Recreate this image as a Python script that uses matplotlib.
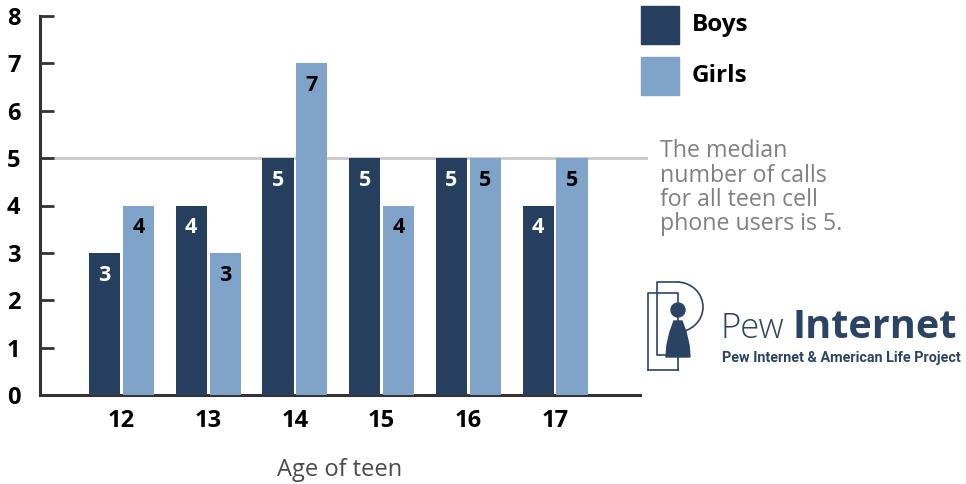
import numpy as np
import matplotlib.pyplot as plt
from matplotlib.patches import Rectangle, Circle, Polygon, Arc

ages = ["12", "13", "14", "15", "16", "17"]
boys = [3, 4, 5, 5, 5, 4]
girls = [4, 3, 7, 4, 5, 5]
median_all = 5

BOYS_C = "#263f5e"
GIRLS_C = "#80a3ca"
LOGO_C = "#2b4463"
FONT = ["Open Sans", "DejaVu Sans"]

plt.rcParams["font.family"] = FONT

fig = plt.figure(figsize=(9.66, 4.84), dpi=100)
ax = fig.add_axes([40 / 966, 89 / 484, 600 / 966, 379 / 484])

x = np.arange(len(ages))
w = 0.36
off = 0.195
bb = ax.bar(x - off, boys, w, color=BOYS_C, zorder=3)
gb = ax.bar(x + off, girls, w, color=GIRLS_C, zorder=3)

for rect, v in zip(bb, boys):
    ax.text(rect.get_x() + rect.get_width() / 2, v - 0.47, str(v), ha="center", va="center",
            color="white", fontsize=15.5, fontweight="bold", zorder=4)
for rect, v in zip(gb, girls):
    ax.text(rect.get_x() + rect.get_width() / 2, v - 0.47, str(v), ha="center", va="center",
            color="black", fontsize=15.5, fontweight="bold", zorder=4)

ax.axhline(median_all, xmin=0, xmax=1.01, color="#c9c9c9", lw=2, zorder=1, clip_on=False)

ax.set_xlim(-0.94, 5.98)
ax.set_ylim(0, 8)
ax.set_yticks(range(0, 9))
ax.set_xticks(x)
ax.set_xticklabels(ages, fontsize=17, fontweight="bold")
ax.tick_params(axis="x", length=0, pad=10)
ax.tick_params(axis="y", direction="in", length=10, width=2, color="#333333",
               labelsize=17, pad=14)
for lab in ax.get_yticklabels():
    lab.set_fontweight("bold")
for s in ["top", "right"]:
    ax.spines[s].set_visible(False)
for s in ["left", "bottom"]:
    ax.spines[s].set_linewidth(2.2)
    ax.spines[s].set_color("#333333")
ax.set_xlabel("Age of teen", fontsize=17, color="#4a4a4a", labelpad=18)

# overlay in pixel coordinates for legend, note and logo
ov = fig.add_axes([0, 0, 1, 1], zorder=5)
ov.set_xlim(0, 966)
ov.set_ylim(484, 0)
ov.axis("off")
ov.patch.set_alpha(0)

ov.add_patch(Rectangle((641, 6), 38, 38, color=BOYS_C))
ov.add_patch(Rectangle((641, 57), 38, 38, color=GIRLS_C))
ov.text(692, 25, "Boys", fontsize=17.5, fontweight="bold", va="center")
ov.text(692, 76, "Girls", fontsize=17.5, fontweight="bold", va="center")

note = ["The median", "number of calls", "for all teen cell", "phone users is 5."]
for i, line in enumerate(note):
    ov.text(660, 157 + 24.5 * i, line, fontsize=16.7, color="#808080", va="baseline")

# logo
ov.plot([648, 648, 678, 678], [370, 293, 293, 370], color=LOGO_C, lw=1.2)
ov.plot([648, 678], [370, 370], color=LOGO_C, lw=1.2)
ov.plot([670, 657, 657, 677], [355, 355, 282, 282], color=LOGO_C, lw=1.2)
ov.add_patch(Arc((677, 307), 52, 50, theta1=-90, theta2=90, color=LOGO_C, lw=1.2))
ov.plot([677, 684], [332, 332], color=LOGO_C, lw=1.2)
ov.add_patch(Circle((678, 310), 7, color=LOGO_C))
ov.add_patch(Polygon([(674, 321), (682, 321), (686, 332), (689, 345), (690, 357),
                      (666, 357), (667, 345), (670, 332)], closed=True, color=LOGO_C))
ov.text(720, 338, "Pew", fontsize=25, color=LOGO_C, fontweight="light", va="baseline")
ov.text(793, 338, "Internet", fontsize=28.5, color=LOGO_C, fontweight="bold", va="baseline")
ov.text(722, 362, "Pew Internet & American Life Project", fontsize=10.4, color=LOGO_C,
        fontweight="bold", va="baseline", family=["Roboto", "DejaVu Sans"])

fig.savefig("out.png", dpi=100)
